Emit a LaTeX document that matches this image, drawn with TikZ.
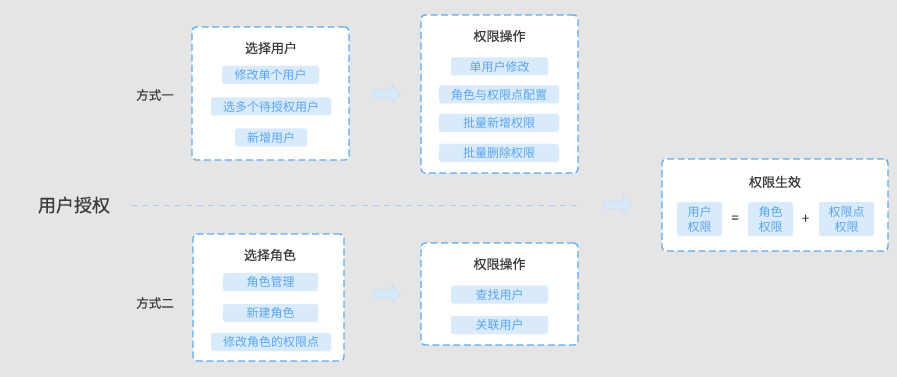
\documentclass[tikz,border=0pt]{standalone}
\usepackage{fontspec}
\setmainfont{Noto Sans CJK SC}
\newfontfamily\cjkm[FakeBold=0.35]{Noto Sans CJK SC}
\newfontfamily\cjkr{Noto Sans CJK SC}
\definecolor{bgc}{HTML}{E5E5E5}
\definecolor{bordc}{HTML}{5EABF2}
\definecolor{linec}{HTML}{A8CEF3}
\definecolor{pillc}{HTML}{D9EAFB}
\definecolor{pilltxt}{HTML}{5AA6EE}
\definecolor{titc}{HTML}{3A3A3A}
\definecolor{arrf}{HTML}{D6E8FA}
\definecolor{arrd}{HTML}{BFDCF7}
\tikzset{
  box/.style={draw=bordc, fill=white, line width=1.3pt, dash pattern=on 7pt off 3.5pt, rounded corners=4pt, inner sep=0pt},
  pill/.style={fill=pillc, draw=pillc!60!white, line width=0.4pt, rounded corners=2.5pt, inner sep=0pt, minimum height=18pt, text=pilltxt, font=\cjkr\fontsize{12}{14}\selectfont},
  ttl/.style={text=titc, font=\cjkm\fontsize{13}{15}\selectfont, inner sep=0pt},
  side/.style={text=titc, font=\cjkm\fontsize{12.5}{15}\selectfont, inner sep=0pt},
  opc/.style={text=titc, font=\cjkm\fontsize{13}{15}\selectfont, inner sep=0pt},
  arrowshape/.style={fill=arrf, draw=arrd, line width=0.7pt, dash pattern=on 2pt off 1.5pt},
}
\newcommand\blockarr[3]{% name, x, y (left end, center)
  \coordinate (#1) at (#2,#3);
  \path[arrowshape] ([shift={(0,-4)}]#1) -- ++(19,0) -- ++(0,-5) -- ++(8,9) -- ++(-8,9) -- ++(0,-5) -- ++(-19,0) -- cycle;
}
\begin{document}
\begin{tikzpicture}[x=1pt,y=-1pt]
\fill[bgc] (0,0) rectangle (897,377);
\useasboundingbox (0,0) rectangle (897,377);

% left label and dashed line
\node[text=titc, font=\cjkm\fontsize{18}{20}\selectfont, inner sep=0pt] (main) at (74,205) {用户授权};
\coordinate (lineEnd) at (578,205);
\draw[draw=linec, line width=1pt, dash pattern=on 6pt off 5pt] ([xshift=21pt]main.east) -- (lineEnd);

\node[side] (m1) at (155,95) {方式一};
\node[side] (m2) at (155,303) {方式二};

% Box 1
\node[box, minimum width=157pt, minimum height=133pt] (b1) at (270.5,93.5) {};
\node[ttl] (t1) at (271,48) {选择用户};
\node[pill, minimum width=97pt] (p11) at (270.5,75) {修改单个用户};
\node[pill, minimum width=120pt] (p12) at (271,106.5) {选多个待授权用户};
\node[pill, minimum width=72pt] (p13) at (271,137.5) {新增用户};

% Box 2
\node[box, minimum width=157pt, minimum height=158pt] (b2) at (499.5,94) {};
\node[ttl] (t2) at (499.5,36) {权限操作};
\node[pill, minimum width=97pt] (p21) at (499.5,66.5) {单用户修改};
\node[pill, minimum width=120pt] (p22) at (499,94.5) {角色与权限点配置};
\node[pill, minimum width=120pt] (p23) at (499,123) {批量新增权限};
\node[pill, minimum width=120pt] (p24) at (499,153) {批量删除权限};

% Box 4
\node[box, minimum width=151pt, minimum height=127pt] (b4) at (268.5,297.5) {};
\node[ttl] (t4) at (270,255) {选择角色};
\node[pill, minimum width=95pt] (p41) at (270.5,282) {角色管理};
\node[pill, minimum width=95pt] (p42) at (270.5,313) {新建角色};
\node[pill, minimum width=120pt] (p43) at (271,342) {修改角色的权限点};

% Box 5
\node[box, minimum width=157pt, minimum height=102pt] (b5) at (499.5,294) {};
\node[ttl] (t5) at (499.5,264) {权限操作};
\node[pill, minimum width=97pt] (p51) at (499.5,294.5) {查找用户};
\node[pill, minimum width=97pt] (p52) at (499.5,325) {关联用户};

% Box 3
\node[box, minimum width=226pt, minimum height=92pt] (b3) at (775,205) {};
\node[ttl] (t3) at (775,182) {权限生效};
\node[pill, minimum width=45pt, minimum height=34pt, align=center, font=\cjkr\fontsize{12}{15}\selectfont] (p31) at (699.5,219) {用户\\权限};
\node[opc] (eq) at (735,219) {=};
\node[pill, minimum width=45pt, minimum height=34pt, align=center, font=\cjkr\fontsize{12}{15}\selectfont] (p32) at (770.5,219) {角色\\权限};
\node[opc] (plus) at (805.5,219) {+};
\node[pill, minimum width=55pt, minimum height=34pt, align=center, font=\cjkr\fontsize{12}{15}\selectfont] (p33) at (846.5,219) {权限点\\权限};

% block arrows
\blockarr{a1}{373}{94}
\blockarr{a2}{373}{294}
\blockarr{a3}{604}{205}
\end{tikzpicture}
\end{document}
